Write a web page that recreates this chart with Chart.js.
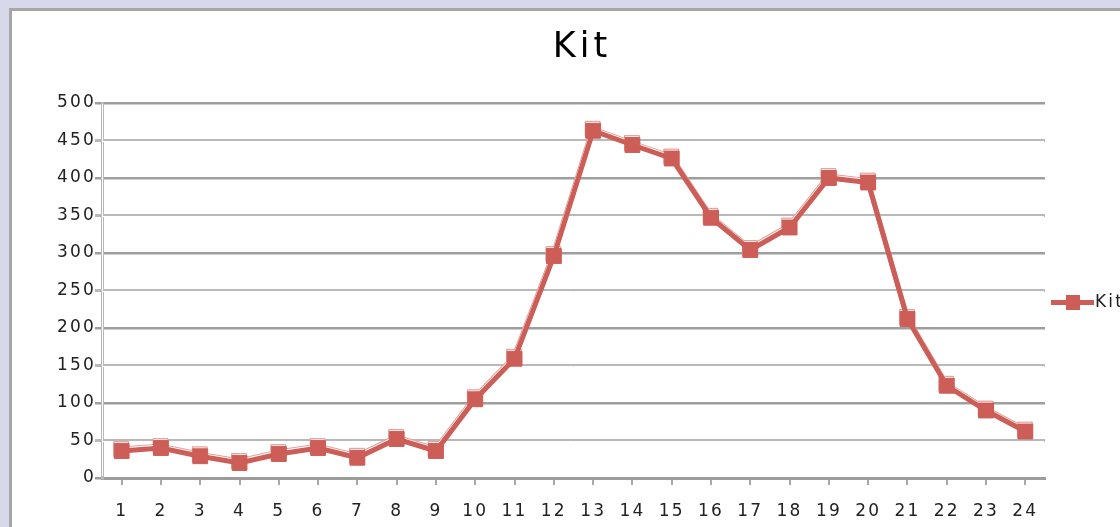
<!DOCTYPE html>
<html>
<head>
<meta charset="utf-8">
<script src="https://cdn.jsdelivr.net/npm/chart.js@4/dist/chart.umd.min.js"></script>
<style>
  html, body { margin: 0; padding: 0; background: #d8d8eb; overflow: hidden; }
  #wrap { position: absolute; left: 0; top: 0; width: 1120px; height: 527px; }
</style>
</head>
<body>
<div id="wrap"><canvas id="kitChart" width="1120" height="527"></canvas></div>
<script>
// values
const chartTitle = 'Kit';
const seriesName = 'Kit';
const categories = ['1', '2', '3', '4', '5', '6', '7', '8', '9', '10', '11', '12',
                    '13', '14', '15', '16', '17', '18', '19', '20', '21', '22', '23', '24'];
const kitValues = [36, 40, 29, 20, 32, 40, 27, 52, 36, 105, 159, 296,
                   463, 444, 426, 347, 304, 334, 400, 394, 212, 123, 90, 62];
const yMin = 0;
const yMax = 500;
const yStep = 50;

const RED = '#cd5d57';
const FONT = 'DejaVu Sans';

// frame, 3D-ish gridline highlight, title and legend
const framePlugin = {
    id: 'frame',
    beforeDraw(chart) {
        const ctx = chart.ctx;
        ctx.save();
        ctx.fillStyle = '#d8d8eb';
        ctx.fillRect(0, 0, chart.width, chart.height);
        ctx.fillStyle = '#ffffff';
        ctx.fillRect(10, 10, chart.width - 10, chart.height - 10);
        ctx.fillStyle = '#a6a6a6';
        ctx.fillRect(9, 8, 3, chart.height);
        ctx.fillRect(9, 8, chart.width, 3);
        ctx.restore();
        ctx.letterSpacing = '2.2px';
    },
    beforeDatasetsDraw(chart) {
        // white centre line on the lighter gridlines so they look doubled
        const ctx = chart.ctx;
        const y = chart.scales.y;
        const area = chart.chartArea;
        ctx.save();
        ctx.strokeStyle = '#ffffff';
        ctx.lineWidth = 1;
        y.ticks.forEach(t => {
            if (t.value % 100 !== 0) {
                const py = Math.round(y.getPixelForValue(t.value)) + 0.5;
                ctx.beginPath();
                ctx.moveTo(area.left + 1, py);
                ctx.lineTo(area.right - 1, py);
                ctx.stroke();
            }
        });
        ctx.beginPath();
        ctx.moveTo(area.left + 0.5, area.top + 1);
        ctx.lineTo(area.left + 0.5, area.bottom - 2);
        ctx.stroke();
        ctx.restore();
    },
    beforeDatasetDraw(chart, args) {
        if (args.index > 0) {
            chart.ctx.save();
            chart.ctx.translate(-0.5, -2);
        }
    },
    afterDatasetDraw(chart, args) {
        if (args.index > 0) chart.ctx.restore();
    },
    afterDraw(chart) {
        const ctx = chart.ctx;
        ctx.save();
        // title
        ctx.letterSpacing = '4px';
        ctx.fillStyle = '#000000';
        ctx.font = '35px "' + FONT + '"';
        ctx.textAlign = 'center';
        ctx.textBaseline = 'alphabetic';
        ctx.fillText(chartTitle, 582, 57);
        // legend
        const ly = 302.5;
        ctx.strokeStyle = RED;
        ctx.lineWidth = 5;
        ctx.beginPath();
        ctx.moveTo(1051, ly);
        ctx.lineTo(1094, ly);
        ctx.stroke();
        ctx.fillStyle = RED;
        ctx.fillRect(1066, ly - 7.5, 14, 15);
        ctx.letterSpacing = '2.2px';
        ctx.fillStyle = '#222222';
        ctx.font = '17px "' + FONT + '"';
        ctx.textAlign = 'left';
        ctx.textBaseline = 'middle';
        ctx.fillText(chart.data.datasets[0].label, 1095, ly);
        ctx.restore();
    }
};

const ctx = document.getElementById('kitChart').getContext('2d');
new Chart(ctx, {
    type: 'line',
    data: {
        labels: categories,
        datasets: [
            {
                label: seriesName,
                data: kitValues,
                borderColor: RED,
                borderWidth: 5,
                backgroundColor: RED,
                pointStyle: 'rect',
                pointRadius: 10.5,
                pointBackgroundColor: RED,
                pointBorderColor: RED,
                pointBorderWidth: 1,
                tension: 0
            },
            {
                // white inner part of the 3D shadow
                label: seriesName + ' shade',
                data: kitValues,
                borderColor: '#ffffff',
                borderWidth: 3,
                pointStyle: 'rect',
                pointRadius: 9.5,
                pointBackgroundColor: '#ffffff',
                pointBorderWidth: 0,
                tension: 0
            },
            {
                // pink outline of the 3D shadow
                label: seriesName + ' edge',
                data: kitValues,
                borderColor: '#e3a09b',
                borderWidth: 5,
                pointStyle: 'rect',
                pointRadius: 10.5,
                pointBackgroundColor: '#e3a09b',
                pointBorderColor: '#e3a09b',
                pointBorderWidth: 1,
                tension: 0
            }
        ]
    },
    options: {
        responsive: false,
        animation: false,
        devicePixelRatio: 1,
        layout: { padding: { left: 0, right: 75, top: 103, bottom: 0 } },
        plugins: {
            legend: { display: false },
            title: { display: false },
            tooltip: { enabled: false }
        },
        scales: {
            x: {
                offset: true,
                grid: {
                    drawOnChartArea: false,
                    drawTicks: true,
                    tickLength: 7,
                    color: '#a8a8a8',
                    lineWidth: 2
                },
                border: { display: true, color: '#9c9c9c', width: 3 },
                ticks: {
                    color: '#222222',
                    font: { family: FONT, size: 17 },
                    padding: 16,
                    maxRotation: 0,
                    autoSkip: false
                },
                afterFit(scale) { scale.height = 49; }
            },
            y: {
                min: yMin,
                max: yMax,
                ticks: {
                    stepSize: yStep,
                    color: '#222222',
                    font: { family: FONT, size: 17 },
                    padding: -1
                },
                grid: {
                    tickLength: 7,
                    color: c => (c.tick && c.tick.value % 100 === 0) ? '#9e9e9e' : '#b9b9b9',
                    lineWidth: c => (c.tick && c.tick.value % 100 === 0) ? 2.5 : 3
                },
                border: { display: true, color: '#b8b8b8', width: 3 },
                afterFit(scale) { scale.width = 102; }
            }
        }
    },
    plugins: [framePlugin]
});
</script>
</body>
</html>
